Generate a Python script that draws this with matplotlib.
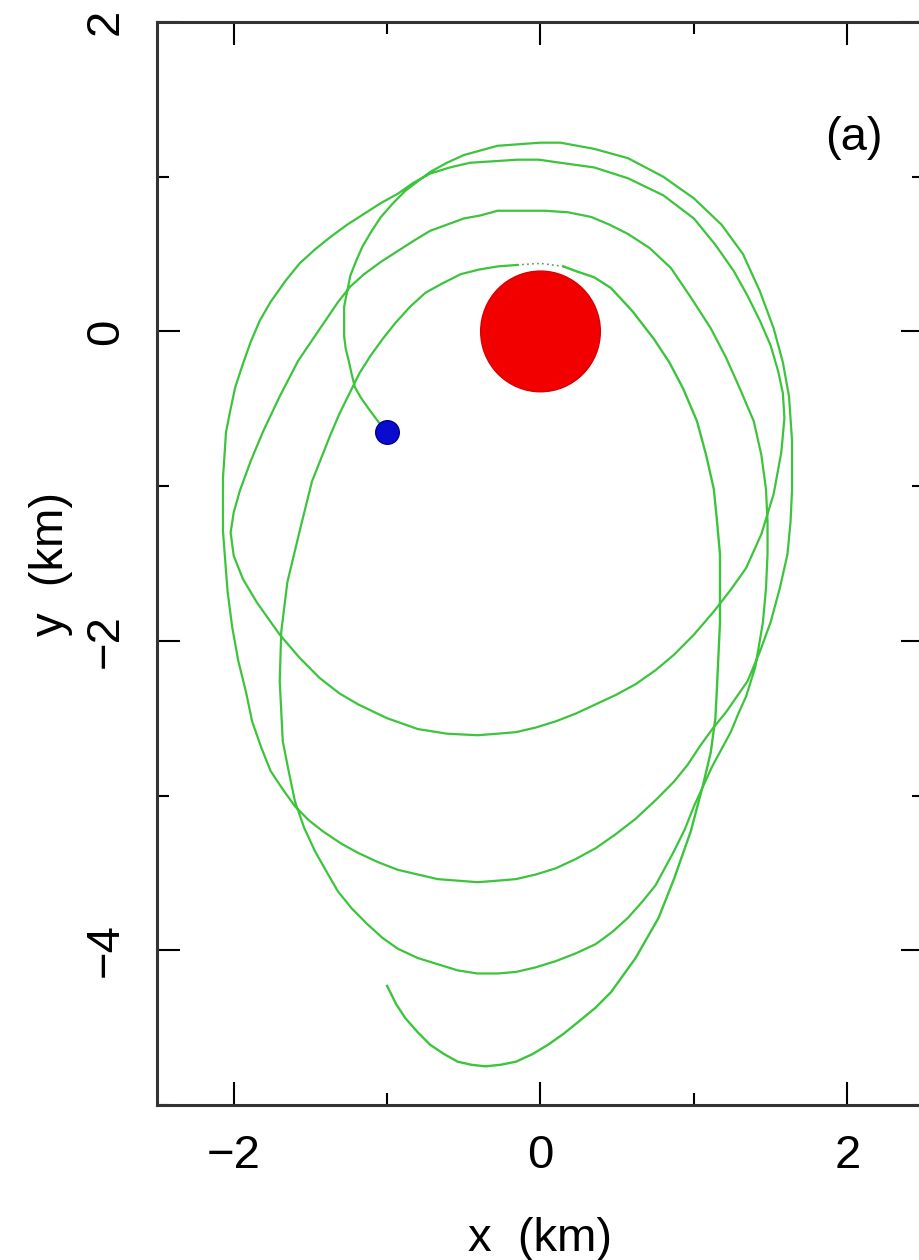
import matplotlib.pyplot as plt
from matplotlib.patches import Circle
from matplotlib.ticker import MultipleLocator

plt.rcParams['font.family'] = ['Liberation Sans', 'DejaVu Sans']

# particle path (km), from the free end of the lowest loop to the blue dot
orbit_x = [
    -1.00, -0.94, -0.88, -0.80, -0.72, -0.63, -0.54, -0.45, -0.36, -0.26, -0.16, -0.05, 0.05,
    0.15, 0.25, 0.36, 0.46, 0.62, 0.77, 0.87, 0.98, 1.06, 1.11, 1.14, 1.15, 1.17, 1.17, 1.15,
    1.13, 1.08, 1.02, 0.93, 0.84, 0.74, 0.60, 0.46, 0.35, 0.23, 0.15, 0.00, -0.15, -0.28,
    -0.40, -0.52, -0.64, -0.75, -0.85, -0.95, -1.03, -1.11, -1.18, -1.24, -1.31, -1.37, -1.43,
    -1.49, -1.57, -1.65, -1.69, -1.70, -1.68, -1.64, -1.60, -1.54, -1.47, -1.39, -1.32, -1.23,
    -1.13, -1.03, -0.93, -0.80, -0.67, -0.54, -0.41, -0.28, -0.16, -0.03, 0.10, 0.23, 0.36,
    0.47, 0.57, 0.66, 0.75, 0.81, 0.87, 0.94, 1.00, 1.06, 1.12, 1.18, 1.24, 1.29, 1.34, 1.40,
    1.45, 1.47, 1.48, 1.48, 1.47, 1.44, 1.39, 1.30, 1.21, 1.11, 0.98, 0.85, 0.71, 0.57, 0.45,
    0.33, 0.18, 0.03, -0.13, -0.28, -0.39, -0.50, -0.61, -0.72, -0.82, -0.93, -1.04, -1.15,
    -1.24, -1.32, -1.45, -1.58, -1.70, -1.81, -1.89, -1.96, -2.00, -2.02, -2.00, -1.94, -1.85,
    -1.70, -1.57, -1.44, -1.31, -1.19, -1.00, -0.80, -0.61, -0.41, -0.28, -0.16, -0.03, 0.10,
    0.23, 0.36, 0.49, 0.62, 0.75, 0.87, 1.00, 1.13, 1.24, 1.34, 1.44, 1.52, 1.57, 1.59, 1.58,
    1.55, 1.50, 1.43, 1.35, 1.26, 1.14, 1.00, 0.80, 0.57, 0.35, 0.13, -0.01, -0.15, -0.31,
    -0.46, -0.59, -0.72, -0.83, -0.93, -1.04, -1.15, -1.26, -1.37, -1.47, -1.57, -1.66, -1.76,
    -1.83, -1.89, -1.94, -1.99, -2.02, -2.05, -2.07, -2.07, -2.04, -2.01, -1.97, -1.92, -1.88,
    -1.82, -1.76, -1.68, -1.60, -1.51, -1.42, -1.30, -1.19, -1.06, -0.93, -0.80, -0.67, -0.54,
    -0.41, -0.28, -0.16, -0.03, 0.10, 0.23, 0.36, 0.49, 0.62, 0.75, 0.87, 0.96, 1.04, 1.12,
    1.21, 1.28, 1.35, 1.43, 1.50, 1.56, 1.61, 1.63, 1.64, 1.64, 1.62, 1.58, 1.52, 1.43, 1.32,
    1.18, 1.00, 0.80, 0.57, 0.35, 0.13, 0.00, -0.14, -0.28, -0.39, -0.50, -0.61, -0.72, -0.80,
    -0.88, -0.96, -1.04, -1.10, -1.16, -1.20, -1.24, -1.26, -1.28, -1.28, -1.28, -1.27, -1.25,
    -1.23, -1.21, -1.17, -1.12, -1.06, -1.00]
orbit_y = [
    -4.23, -4.35, -4.44, -4.53, -4.61, -4.67, -4.72, -4.74, -4.75, -4.74, -4.72, -4.67, -4.61,
    -4.54, -4.46, -4.37, -4.27, -4.05, -3.79, -3.54, -3.23, -2.93, -2.72, -2.50, -2.31, -1.88,
    -1.44, -1.22, -1.02, -0.80, -0.58, -0.37, -0.20, -0.05, 0.13, 0.28, 0.35, 0.39, 0.42, 0.44,
    0.43, 0.42, 0.40, 0.37, 0.31, 0.25, 0.16, 0.05, -0.05, -0.16, -0.27, -0.39, -0.53, -0.67,
    -0.82, -0.97, -1.29, -1.62, -1.94, -2.26, -2.65, -2.85, -3.04, -3.21, -3.36, -3.50, -3.62,
    -3.73, -3.83, -3.92, -3.99, -4.05, -4.09, -4.13, -4.15, -4.15, -4.14, -4.11, -4.07, -4.02,
    -3.96, -3.88, -3.79, -3.69, -3.58, -3.47, -3.36, -3.22, -3.07, -2.94, -2.81, -2.70, -2.59,
    -2.47, -2.36, -2.17, -1.88, -1.66, -1.44, -1.23, -1.02, -0.80, -0.58, -0.37, -0.17, 0.02,
    0.22, 0.41, 0.54, 0.63, 0.69, 0.74, 0.77, 0.78, 0.78, 0.78, 0.75, 0.73, 0.69, 0.65, 0.59,
    0.52, 0.45, 0.37, 0.29, 0.19, 0.00, -0.19, -0.42, -0.65, -0.84, -1.03, -1.17, -1.30, -1.45,
    -1.60, -1.75, -1.96, -2.11, -2.24, -2.34, -2.41, -2.50, -2.57, -2.60, -2.61, -2.60, -2.59,
    -2.56, -2.52, -2.47, -2.41, -2.35, -2.28, -2.19, -2.09, -1.96, -1.81, -1.67, -1.53, -1.31,
    -1.05, -0.78, -0.56, -0.40, -0.26, -0.09, 0.07, 0.23, 0.39, 0.56, 0.73, 0.88, 0.99, 1.06,
    1.09, 1.11, 1.11, 1.10, 1.09, 1.06, 1.02, 0.96, 0.89, 0.83, 0.76, 0.69, 0.61, 0.53, 0.44,
    0.33, 0.19, 0.07, -0.07, -0.21, -0.36, -0.50, -0.65, -0.95, -1.29, -1.68, -1.91, -2.13,
    -2.33, -2.52, -2.69, -2.84, -2.96, -3.07, -3.16, -3.23, -3.31, -3.37, -3.43, -3.48, -3.51,
    -3.54, -3.55, -3.56, -3.55, -3.54, -3.51, -3.47, -3.41, -3.34, -3.25, -3.15, -3.03, -2.91,
    -2.80, -2.68, -2.57, -2.46, -2.36, -2.26, -2.07, -1.88, -1.66, -1.44, -1.23, -1.02, -0.71,
    -0.42, -0.20, 0.02, 0.26, 0.50, 0.69, 0.86, 1.00, 1.12, 1.18, 1.22, 1.22, 1.21, 1.20, 1.17,
    1.14, 1.09, 1.03, 0.97, 0.91, 0.83, 0.74, 0.65, 0.55, 0.46, 0.36, 0.26, 0.16, 0.06, -0.03,
    -0.11, -0.19, -0.28, -0.36, -0.43, -0.50, -0.58, -0.65]

# the stretch just above the body shows up dotted
faint_start = next(i for i, p in enumerate(zip(orbit_x, orbit_y)) if p == (0.15, 0.42))
faint_stop = next(i for i, p in enumerate(zip(orbit_x, orbit_y)) if p == (-0.15, 0.43))

body_x, body_y, body_r = 0.0, 0.0, 0.39
probe_x, probe_y = -1.00, -0.65

xticks_major = [-2, 0, 2]
yticks_major = [2, 0, -2, -4]

fig = plt.figure(figsize=(9.2, 12.6), dpi=100)
ax = fig.add_axes([157 / 920, 155 / 1260, 767 / 920, 1083 / 1260])

green = '#3cc43c'
ax.plot(orbit_x[:faint_start + 1], orbit_y[:faint_start + 1], color=green, lw=1.7, zorder=2)
ax.plot(orbit_x[faint_start:faint_stop + 1], orbit_y[faint_start:faint_stop + 1],
        color='#5a9a5a', lw=1.2, ls=(0, (1, 2)), zorder=2)
ax.plot(orbit_x[faint_stop:], orbit_y[faint_stop:], color=green, lw=1.6, zorder=2)

ax.add_patch(Circle((body_x, body_y), body_r, facecolor='#f20000', edgecolor='#d80000',
                    lw=1.0, zorder=3))
ax.plot(probe_x, probe_y, 'o', ms=17, color='#0b0bd0', mec='#00008c', mew=1.0, zorder=4)

ax.set_xlim(-2.5, 2.5)
ax.set_ylim(-5, 2)
ax.set_xticks(xticks_major)
ax.set_yticks(yticks_major)
ax.set_xticklabels(['\u22122', '0', '2'])
ax.set_yticklabels(['2', '0', '\u22122', '\u22124'])
ax.xaxis.set_minor_locator(MultipleLocator(1))
ax.yaxis.set_minor_locator(MultipleLocator(1))

ax.tick_params(which='both', direction='in', top=True, right=True, color='black')
ax.tick_params(which='major', length=16.5, width=1.5, labelsize=34, pad=21)
ax.tick_params(which='minor', length=8.5, width=1.5)
ax.tick_params(axis='y', labelrotation=90)
for lab in ax.get_yticklabels():
    lab.set_va('center')

for sp in ax.spines.values():
    sp.set_color('#333333')
    sp.set_linewidth(2.2)

ax.set_xlabel('x  (km)', fontsize=34, labelpad=28)
ax.set_ylabel('y  (km)', fontsize=34, labelpad=8)
ax.text(2.04, 1.25, '(a)', fontsize=34, ha='center', va='center')

fig.savefig('out.png', dpi=100)
